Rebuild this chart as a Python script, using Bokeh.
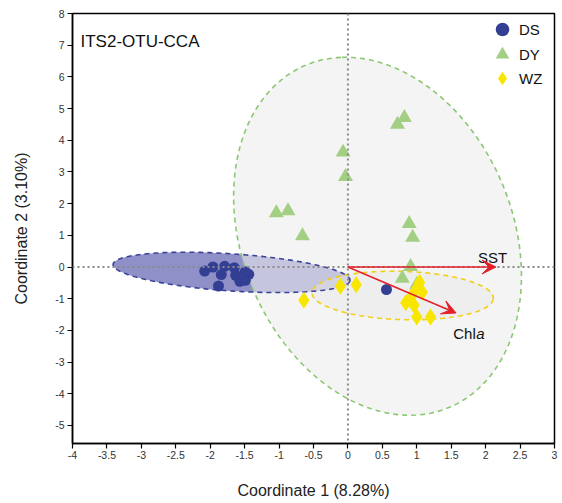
import numpy as np
from bokeh.plotting import figure
from bokeh.models import Span, Arrow, VeeHead, Legend, LegendItem, FixedTicker
from bokeh.core.properties import value
from bokeh.embed import file_html
from bokeh.resources import INLINE

# ---------------- data ----------------
ds_x = [-2.08, -1.96, -1.79, -1.84, -1.65, -1.63, -1.49, -1.44, -1.57, -1.49, -1.88, 0.56]
ds_y = [-0.13, 0.00, 0.02, -0.24, -0.02, -0.26, -0.15, -0.23, -0.45, -0.42, -0.60, -0.71]

dy_x = [0.72, 0.82, -0.07, -0.035, -1.04, -0.87, -0.66, 0.89, 0.94, 0.91, 0.79, 1.00]
dy_y = [4.50, 4.71, 3.62, 2.85, 1.71, 1.77, 0.98, 1.37, 0.93, 0.01, -0.36, -0.56]

wz_x = [-0.64, -0.11, 0.12, 0.84, 0.93, 1.01, 1.08, 1.04, 0.96, 1.00, 1.20]
wz_y = [-1.05, -0.61, -0.56, -1.13, -0.90, -0.64, -0.80, -0.48, -1.21, -1.58, -1.58]

# confidence ellipses: centre, semi-axes, rotation (deg)
ell_group = ["DS", "DY", "WZ"]
ell_cx = [-1.69, 0.43, 0.795]
ell_cy = [-0.17, 0.97, -0.90]
ell_a = [1.74, 5.67, 1.32]
ell_b = [0.58, 2.03, 0.76]
ell_ang = [-9.2, 95.4, -5.4]

# environmental vectors
env_names = ["SST", "Chl"]
env_x = [2.15, 1.57]
env_y = [0.00, -1.45]
env_lab_x = [2.10, 1.53]
env_lab_y = [0.31, -2.10]

x_tick_vals = [-4, -3.5, -3, -2.5, -2, -1.5, -1, -0.5, 0, 0.5, 1, 1.5, 2, 2.5, 3]
x_tick_labels = ["-4", "-3.5", "-3", "-2.5", "-2", "-1.5", "-1", "-0.5", "0", "0.5",
                 "1", "1.5", "2", "2.5", "3"]
y_tick_vals = [-5, -4, -3, -2, -1, 0, 1, 2, 3, 4, 5, 6, 7, 8]
y_tick_labels = [str(v) for v in y_tick_vals]

legend_labels = ["DS", "DY", "WZ"]

title_text = "ITS2-OTU-CCA"
x_label = "Coordinate 1 (8.28%)"
y_label = "Coordinate 2 (3.10%)"

# ---------------- styles ----------------
FONT = "Liberation Sans"
C_DS = "#323f93"
C_DY = "#a3cf83"
C_WZ = "#f9e600"
RED = "#e3202a"

p = figure(width=562, height=503, x_range=(-4, 3), y_range=(-5.57, 8),
           output_backend="svg", toolbar_location=None,
           min_border_left=72, min_border_right=8, min_border_top=13,
           min_border_bottom=60)
p.grid.visible = False
p.outline_line_color = "black"
p.outline_line_width = 1.5
p.background_fill_color = "white"
p.border_fill_color = "white"


def ellipse_pts(cx, cy, a, b, ang):
    t = np.linspace(0, 2 * np.pi, 240)
    th = np.deg2rad(ang)
    ex = cx + a * np.cos(t) * np.cos(th) - b * np.sin(t) * np.sin(th)
    ey = cy + a * np.cos(t) * np.sin(th) + b * np.sin(t) * np.cos(th)
    return ex, ey


ell_style = {
    "DS": dict(fill_color="#8f90c8", fill_alpha=1.0, line_color="#3a4199"),
    "DY": dict(fill_color="#ececec", fill_alpha=0.58, line_color="#8cc873"),
    "WZ": dict(fill_color="#e6e6e6", fill_alpha=0.45, line_color="#f2cf10"),
}
for g, cx, cy, a, b, ang in zip(ell_group, ell_cx, ell_cy, ell_a, ell_b, ell_ang):
    ex, ey = ellipse_pts(cx, cy, a, b, ang)
    st = ell_style[g]
    p.patch(ex, ey, fill_color=st["fill_color"], fill_alpha=st["fill_alpha"],
            line_color=None)
for g, cx, cy, a, b, ang in zip(ell_group, ell_cx, ell_cy, ell_a, ell_b, ell_ang):
    ex, ey = ellipse_pts(cx, cy, a, b, ang)
    st = ell_style[g]
    p.line(ex, ey, line_color=st["line_color"], line_width=1.6, line_dash="5 4")

# reference lines
for dim in ("width", "height"):
    p.add_layout(Span(location=0, dimension=dim, line_color="#8a8a8a",
                      line_width=2, line_dash="2 3"))

# env arrows
for ex_, ey_ in zip(env_x, env_y):
    p.add_layout(Arrow(x_start=0, y_start=0, x_end=ex_, y_end=ey_,
                       line_color=RED, line_width=1.5,
                       end=VeeHead(size=14, fill_color=RED, line_color=RED)))

p.text(x=[env_lab_x[0]], y=[env_lab_y[0]], text=[env_names[0]],
       text_font=value(FONT), text_font_size="15px", text_align="center",
       text_baseline="alphabetic", text_color="#111111")
p.text(x=[env_lab_x[1]], y=[env_lab_y[1]], text=[env_names[1]],
       text_font=value(FONT), text_font_size="15px", text_align="left",
       text_baseline="alphabetic", text_color="#111111")
p.text(x=[env_lab_x[1]], y=[env_lab_y[1]], text=["a"], x_offset=23,
       text_font=value(FONT), text_font_size="15px", text_font_style="italic",
       text_align="left", text_baseline="alphabetic", text_color="#111111")

# title inside
p.text(x=[-3.884], y=[7.12], text=[title_text], text_font=value(FONT),
       text_font_size="17px", text_align="left", text_baseline="alphabetic",
       text_color="#111111")

# points
r_ds = p.scatter(ds_x, ds_y, marker="circle", size=11, fill_color=C_DS,
                 line_color=None)
r_dy = p.scatter(dy_x, dy_y, marker="triangle", size=15, fill_color=C_DY,
                 line_color=None)
r_wz = p.scatter(wz_x, wz_y, marker="diamond", size=17, fill_color=C_WZ,
                 line_color=None)

# one legend per entry so the keys can be large and tightly stacked
legend_bottoms = [397, 372, 348]
for lab, rend, vy in zip(legend_labels, (r_ds, r_dy, r_wz), legend_bottoms):
    lg = Legend(items=[LegendItem(label=lab, renderers=[rend])],
                location=(413, vy), glyph_width=34, glyph_height=34,
                spacing=0, padding=0, margin=0, label_standoff=0,
                label_text_font=FONT, label_text_font_size="15px",
                label_text_color="#111111", border_line_color=None,
                background_fill_alpha=0)
    p.add_layout(lg)

# axes
for ax, vals, labs in ((p.xaxis[0], x_tick_vals, x_tick_labels),
                       (p.yaxis[0], y_tick_vals, y_tick_labels)):
    ax.ticker = FixedTicker(ticks=vals)
    ax.major_label_overrides = {v: l for v, l in zip(vals, labs)}
    ax.axis_line_color = "black"
    ax.axis_line_width = 1.5
    ax.major_tick_line_color = "black"
    ax.major_tick_line_width = 1.2
    ax.major_tick_out = 5
    ax.major_tick_in = 0
    ax.minor_tick_line_color = None
    ax.major_label_text_font = FONT
    ax.major_label_text_font_size = "10.5px"
    ax.major_label_text_color = "#333333"
    ax.axis_label_text_font = FONT
    ax.axis_label_text_font_size = "16px"
    ax.axis_label_text_font_style = "normal"
    ax.axis_label_text_color = "#222222"

p.xaxis.axis_label = x_label
p.yaxis.axis_label = y_label
p.xaxis.major_label_standoff = 2
p.xaxis.axis_label_standoff = 20
p.yaxis.major_label_standoff = 3
p.yaxis.axis_label_standoff = 22

open("out.html", "w").write(file_html(p, INLINE))
